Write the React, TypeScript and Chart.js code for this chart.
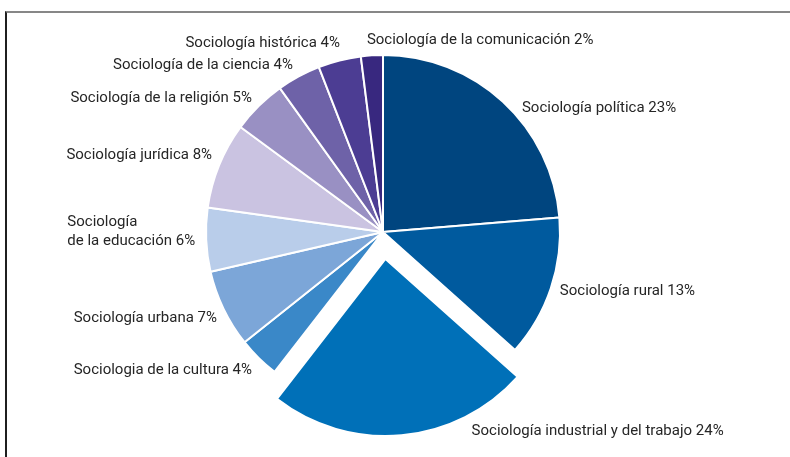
import React, { useEffect, useRef } from "react";
import { Chart, registerables } from "chart.js";

Chart.register(...registerables);

// ---- Data ----
const categories = [
  "Sociología política",
  "Sociología rural",
  "Sociología industrial y del trabajo",
  "Sociologia de la cultura",
  "Sociología urbana",
  "Sociología de la educación",
  "Sociología jurídica",
  "Sociología de la religión",
  "Sociología de la ciencia",
  "Sociología histórica",
  "Sociología de la comunicación",
];
const shareValues = [23.7, 12.9, 23.9, 3.8, 7.1, 5.8, 7.9, 5.0, 4.0, 3.9, 2.0];
const percentLabels = ["23%", "13%", "24%", "4%", "7%", "6%", "8%", "5%", "4%", "4%", "2%"];
const labelTexts: string[][] = [
  ["Sociología política 23%"],
  ["Sociología rural 13%"],
  ["Sociología industrial y del trabajo 24%"],
  ["Sociologia de la cultura 4%"],
  ["Sociología urbana 7%"],
  ["Sociología", "de la educación 6%"],
  ["Sociología jurídica 8%"],
  ["Sociología de la religión 5%"],
  ["Sociología de la ciencia 4%"],
  ["Sociología histórica 4%"],
  ["Sociología de la comunicación 2%"],
];

// ---- Styles / layout ----
const sliceColors = [
  "#00457F",
  "#005A9E",
  "#0070B8",
  "#3A88C8",
  "#7CA6D8",
  "#B9CDEA",
  "#CAC3E1",
  "#9990C3",
  "#6E62A8",
  "#4C3D93",
  "#38287F",
];
const explodeOffsets = [0, 0, 108, 0, 0, 0, 0, 0, 0, 0, 0];
const labelAlign = ["left", "left", "left", "right", "right", "right", "right", "right", "right", "right", "left"];
const labelNudge: [number, number][] = [
  [19, 6],
  [9, 3],
  [70, -4],
  [-6.6, 12],
  [-6.6, 9],
  [-11, -8],
  [-7, -10],
  [-6.6, -8],
  [-5.7, -11],
  [0.5, -17],
  [-5, -15],
];
const FONT = "15px Roboto";
const LINE_H = 18.5;

const labelPlugin = {
  id: "sliceLabels",
  afterDatasetsDraw(chart: any) {
    const ctx = chart.ctx as CanvasRenderingContext2D;
    const meta = chart.getDatasetMeta(0);
    ctx.save();
    ctx.font = FONT;
    ctx.fillStyle = "#262626";
    ctx.textBaseline = "middle";
    ctx.textAlign = "left";
    meta.data.forEach((arc: any, i: number) => {
      const p = arc.getProps(["x", "y", "startAngle", "endAngle", "outerRadius"], true);
      const mid = (p.startAngle + p.endAngle) / 2;
      const circ = p.endAngle - p.startAngle;
      const base = (explodeOffsets[i] || 0) / 4;
      const off = base * (1 + (1 - Math.sin(Math.min(Math.PI, circ))));
      const r = p.outerRadius + off;
      const ax = p.x + Math.cos(mid) * r + labelNudge[i][0];
      const ay = p.y + Math.sin(mid) * r + labelNudge[i][1];
      const lines = labelTexts[i];
      const blockW = Math.max(...lines.map((l) => ctx.measureText(l).width));
      const left = labelAlign[i] === "left" ? ax : ax - blockW;
      lines.forEach((l, k) => {
        ctx.fillText(l, left, ay + (k - (lines.length - 1) / 2) * LINE_H);
      });
    });
    ctx.restore();
  },
};

export default function App() {
  const canvasRef = useRef<HTMLCanvasElement | null>(null);

  useEffect(() => {
    if (!canvasRef.current) return;
    const chart = new Chart(canvasRef.current, {
      type: "pie",
      data: {
        labels: categories.map((c, i) => `${c} ${percentLabels[i]}`),
        datasets: [
          {
            data: shareValues,
            backgroundColor: sliceColors,
            borderColor: "#ffffff",
            borderWidth: 2,
            offset: explodeOffsets,
            hoverOffset: 0,
          } as any,
        ],
      },
      options: {
        animation: false,
        responsive: true,
        maintainAspectRatio: false,
        radius: 177,
        layout: { padding: { left: 0, right: 24, top: 7, bottom: 0 } },
        plugins: {
          legend: { display: false },
          tooltip: { enabled: false },
        },
      } as any,
      plugins: [labelPlugin],
    });
    return () => chart.destroy();
  }, []);

  return (
    <div style={{ position: "absolute", left: 0, top: 0, width: 790, height: 457, background: "#fff", overflow: "hidden" }}>
      <div
        style={{
          position: "absolute",
          left: 5,
          top: 11,
          right: 0,
          bottom: 0,
          borderTop: "2px solid #878787",
          borderLeft: "2px solid #1f1f1f",
        }}
      />
      <canvas ref={canvasRef} style={{ position: "absolute", left: 0, top: 0 }} />
    </div>
  );
}
